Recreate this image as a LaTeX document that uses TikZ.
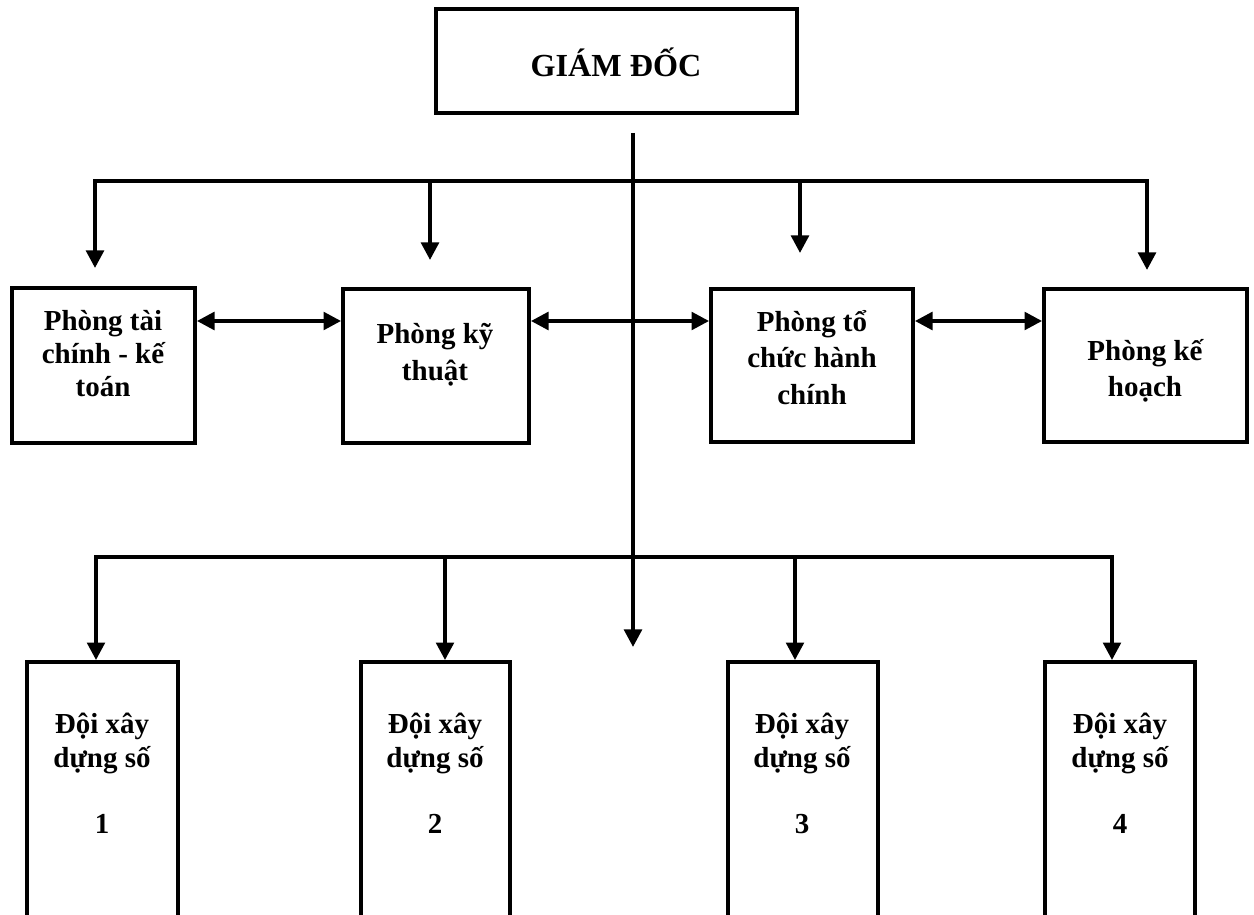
\documentclass[tikz,border=0pt]{standalone}
\usepackage{fontspec}
\setmainfont{Liberation Serif}
\usetikzlibrary{arrows.meta,fit,calc}
\begin{document}
\begin{tikzpicture}[x=0.02cm,y=-0.02cm,
  box/.style={draw,line width=2.2pt,inner sep=0pt,rectangle},
  lbl/.style={inner sep=0pt,align=center,anchor=base,font=\bfseries\fontsize{16.5}{20.5}\selectfont},
  lnk/.style={line width=2.2pt},
  tipd/.tip={Triangle[length=10pt,width=10pt]},
  arr/.style={lnk,-tipd},
  darr/.style={lnk,tipd-tipd},
  barr/.style={lnk,line join=miter,tipd-tipd}]
\useasboundingbox (0,0) rectangle (1254,915);
% director
\node[box,fit={(436,9)(797,113)}] (gd) {};
\node[lbl,font=\bfseries\fontsize{18.3}{21}\selectfont] (tgd) at (616,77) {GIÁM ĐỐC};
% departments
\node[box,fit={(12,288)(195,443)}] (p1) {};
\node[box,fit={(343,289)(529,443)}] (p2) {};
\node[box,fit={(711,289)(913,442)}] (p3) {};
\node[box,fit={(1044,289)(1247,442)}] (p4) {};
\node[lbl,font=\bfseries\fontsize{16.5}{19}\selectfont] (tp1) at (103,397) {Phòng tài\\chính - kế\\toán};
\node[lbl] (tp2) at (435,380) {Phòng kỹ\\thuật};
\node[lbl] (tp3) at (812,404) {Phòng tổ\\chức hành\\chính};
\node[lbl] (tp4) at (1145,397) {Phòng kế\\hoạch};
% construction teams
\node[box,fit={(27,662)(178,940)}] (d1) {};
\node[box,fit={(361,662)(510,940)}] (d2) {};
\node[box,fit={(728,662)(878,940)}] (d3) {};
\node[box,fit={(1045,662)(1195,940)}] (d4) {};
\node[lbl,font=\bfseries\fontsize{16.5}{19.3}\selectfont] (td1) at (102,833) {Đội xây\\dựng số\\[18pt]1};
\node[lbl,font=\bfseries\fontsize{16.5}{19.3}\selectfont] (td2) at (435,833) {Đội xây\\dựng số\\[18pt]2};
\node[lbl,font=\bfseries\fontsize{16.5}{19.3}\selectfont] (td3) at (802,833) {Đội xây\\dựng số\\[18pt]3};
\node[lbl,font=\bfseries\fontsize{16.5}{19.3}\selectfont] (td4) at (1120,833) {Đội xây\\dựng số\\[18pt]4};
% trunk
\coordinate (trunkTop) at (633,133);
\coordinate (trunkEnd) at (633,647);
\draw[arr] (trunkTop) -- (trunkEnd);
% upper bus
\coordinate (u1) at (95,181);
\coordinate (u4) at (1147,181);
\coordinate (a1) at (95,268);
\coordinate (a2) at (430,260);
\coordinate (a3) at (800,253);
\coordinate (a4) at (1147,270);
\draw[barr] (a1) -- (u1) -- (u4) -- (a4);
\draw[arr] (430,181) -- (a2);
\draw[arr] (800,181) -- (a3);
% horizontal links between departments
\draw[darr] (p1.east |- 0,321) -- (p2.west |- 0,321);
\draw[darr] (p2.east |- 0,321) -- (p3.west |- 0,321);
\draw[darr] (p3.east |- 0,321) -- (p4.west |- 0,321);
% lower bus
\coordinate (l1) at (96,557);
\coordinate (l4) at (1112,557);
\draw[barr] (l1 |- d1.north) -- (l1) -- (l4) -- (l4 |- d4.north);
\draw[arr] (445,557) -- (445,0 |- d2.north);
\draw[arr] (795,557) -- (795,0 |- d3.north);
\end{tikzpicture}
\end{document}
